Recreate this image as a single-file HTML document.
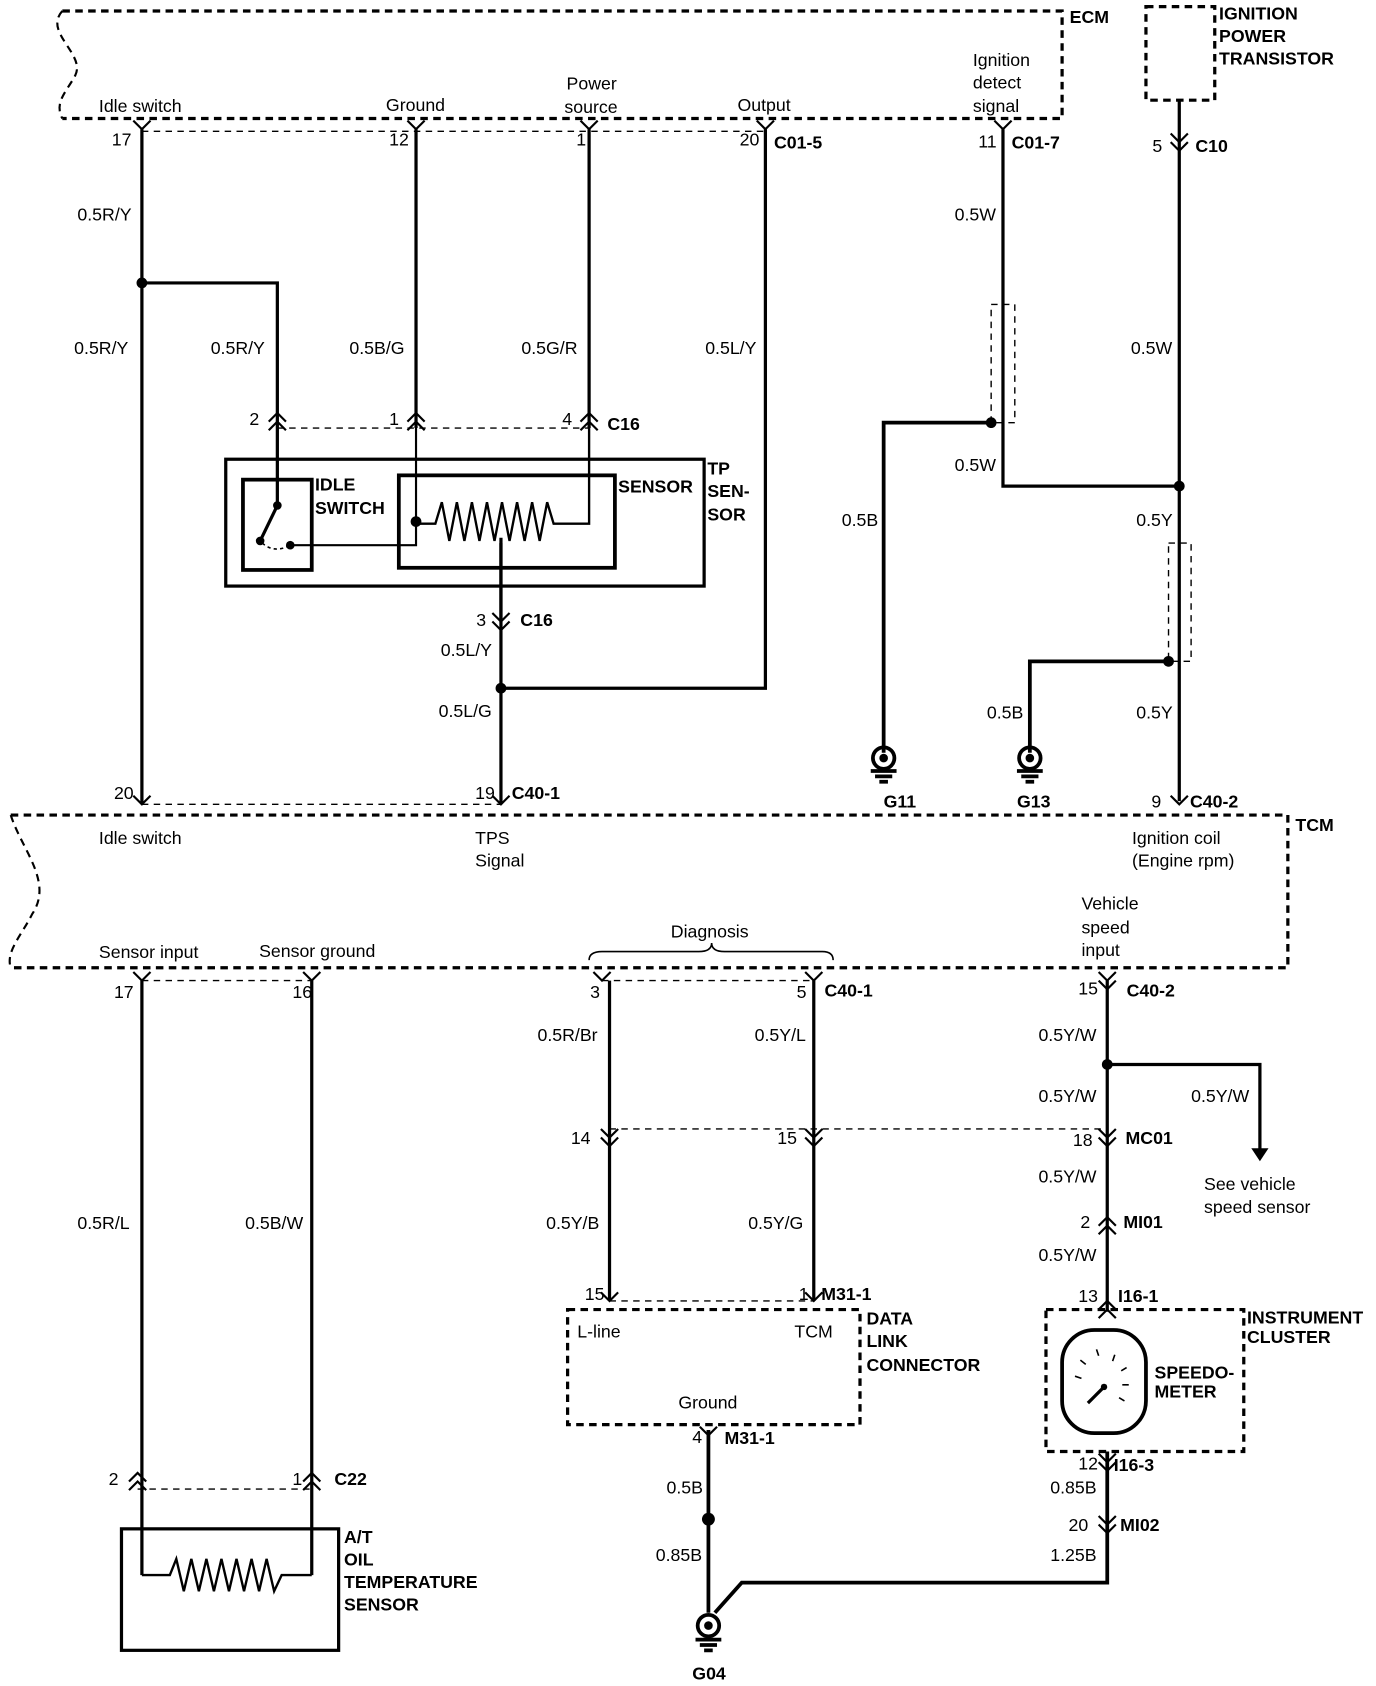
<!DOCTYPE html>
<html><head><meta charset="utf-8"><style>
html,body{margin:0;padding:0;background:#fff;}
svg{display:block}
text{font-family:"Liberation Sans",sans-serif;font-size:16.5px;fill:#000}
.b{font-weight:bold}
</style></head><body>
<svg width="1376" height="1686" viewBox="0 0 1280 1568" xmlns="http://www.w3.org/2000/svg">
<g fill="none" stroke="#000" stroke-width="3">
<path d="M58 10 H988 V110 H58" stroke-dasharray="7,5"/>
<path d="M58 10 C40 30 80 50 70 70 C62 85 50 95 58 110" stroke-dasharray="7,5" stroke-width="2"/>
<rect x="1066" y="6" width="64" height="87" stroke-dasharray="7,5"/>
<path d="M10 758 H1198 V900 H10" stroke-dasharray="7,5"/>
<path d="M10 758 C20 790 50 820 30 850 C20 870 5 885 10 900" stroke-dasharray="7,5" stroke-width="2"/>
<g stroke-width="1.3" stroke-dasharray="6,5">
<path d="M132 122 H712"/><path d="M258 398 H548"/><path d="M132 748 H466"/>
<path d="M132 912 H290"/><path d="M560 912 H757"/><path d="M567 1050 H1030"/>
<path d="M567 1210 H757"/><path d="M128 1385 H290"/>
<rect x="922" y="283" width="22" height="110"/><rect x="1087" y="505" width="21" height="110"/>
</g>
<rect x="528" y="1218" width="272" height="107" stroke-dasharray="7,5"/>
<rect x="973" y="1218" width="184" height="132" stroke-dasharray="7,5"/>
<path d="M132 120 V748"/><path d="M132 263 H258 V398"/>
<path d="M387 120 V398"/><path d="M548 120 V398"/>
<path d="M712 120 V640 H466"/><path d="M466 500 V748"/>
<path d="M933 120 V452 H1097"/><path d="M922 393 H822 V700" stroke-width="3.5"/>
<path d="M1097 93 V745"/><path d="M1087 615 H958 V700" stroke-width="3.5"/>
<rect x="210" y="427" width="445" height="118"/>
<rect x="226" y="446" width="64" height="84" stroke-width="3.5"/>
<rect x="371" y="442" width="201" height="86" stroke-width="3.5"/>
<path d="M258 398 V470 L242 503"/>
<path d="M244 505 Q255 515 270 507" stroke-dasharray="3,3" stroke-width="1.5"/>
<path d="M270 507 H387 V398" stroke-width="2"/>
<path d="M387 487 H405 L411 467 L418 503 L425 467 L432 503 L439 467 L446 503 L453 467 L460 503 L467 467 L474 503 L481 467 L488 503 L495 467 L502 503 L509 467 L515 487 H548 V398" stroke-width="2.2"/>
<path d="M466 575 V505"/>
<path d="M132 912 V1465"/><path d="M290 912 V1465"/>
<rect x="113" y="1422" width="202" height="113"/>
<path d="M132 1465 H158 L164 1450 L171 1480 L178 1450 L185 1480 L192 1450 L199 1480 L206 1450 L213 1480 L220 1450 L227 1480 L234 1450 L241 1480 L248 1450 L255 1480 L262 1465 H290" stroke-width="2.2"/>
<path d="M567 912 V1210"/><path d="M757 912 V1210"/>
<path d="M659 1330 V1500" stroke-width="3.5"/>
<path d="M1030 912 V1220"/><path d="M1030 990 H1172 V1072"/>
<path d="M1030 1350 V1472 H690 L665 1500" stroke-width="3.5"/>
<path d="M548 893 Q548 885 560 885 H650 Q662 885 662 877 Q662 885 674 885 H765 Q775 885 775 893" stroke-width="1.5"/>
<rect x="988" y="1237" width="78" height="96" rx="30" stroke-width="3.5"/>
<path d="M1027 1290 L1012 1305"/>
<path d="M1000 1280 l6 2 M1005 1265 l5 4 M1020 1255 l2 6 M1037 1260 l-2 6 M1048 1272 l-5 3 M1050 1288 l-6 0 M1046 1303 l-5 -3" stroke-width="1.5"/>
<g stroke-width="3.5">
<circle cx="822" cy="705" r="10"/><path d="M810 717 H834 M814 722 H830 M818 727 H826"/>
<circle cx="958" cy="705" r="10"/><path d="M946 717 H970 M950 722 H966 M954 727 H962"/>
<circle cx="659" cy="1512" r="10"/><path d="M647 1525 H671 M651 1530 H667 M655 1535 H663"/>
</g>
<g stroke-width="2">
<path d="M124 112 l8 8 l8 -8 M379 112 l8 8 l8 -8 M540 112 l8 8 l8 -8 M704 112 l8 8 l8 -8 M925 112 l8 8 l8 -8"/>
<path d="M1089 124 l8 8 l8 -8 M1089 132 l8 8 l8 -8"/>
<path d="M458 570 l8 8 l8 -8 M458 578 l8 8 l8 -8"/>
<path d="M124 740 l8 8 l8 -8 M458 740 l8 8 l8 -8 M1089 740 l8 8 l8 -8"/>
<path d="M124 904 l8 8 l8 -8 M282 904 l8 8 l8 -8 M552 904 l8 8 l8 -8 M749 904 l8 8 l8 -8 M1022 904 l8 8 l8 -8 M1022 912 l8 8 l8 -8"/>
<path d="M559 1050 l8 8 l8 -8 M559 1058 l8 8 l8 -8 M749 1050 l8 8 l8 -8 M749 1058 l8 8 l8 -8 M1022 1050 l8 8 l8 -8 M1022 1058 l8 8 l8 -8"/>
<path d="M559 1202 l8 8 l8 -8 M749 1202 l8 8 l8 -8 M651 1327 l8 8 l8 -8"/>
<path d="M1022 1352 l8 8 l8 -8 M1022 1360 l8 8 l8 -8 M1022 1410 l8 8 l8 -8 M1022 1418 l8 8 l8 -8"/>
<path d="M250 392 l8 -8 l8 8 M250 400 l8 -8 l8 8 M379 392 l8 -8 l8 8 M379 400 l8 -8 l8 8 M540 392 l8 -8 l8 8 M540 400 l8 -8 l8 8"/>
<path d="M1022 1140 l8 -8 l8 8 M1022 1148 l8 -8 l8 8 M1022 1218 l8 -8 l8 8 M1022 1226 l8 -8 l8 8"/>
<path d="M120 1378 l8 -8 l8 8 M120 1386 l8 -8 l8 8 M282 1378 l8 -8 l8 8 M282 1386 l8 -8 l8 8"/>
</g>
</g>
<path d="M1164 1068 H1180 L1172 1080 Z" fill="#000"/>
<g fill="#000">
<circle cx="132" cy="263" r="5"/><circle cx="466" cy="640" r="5"/><circle cx="922" cy="393" r="5"/>
<circle cx="1097" cy="452" r="5"/><circle cx="1087" cy="615" r="5"/><circle cx="1030" cy="990" r="5"/>
<circle cx="659" cy="1413" r="6"/><circle cx="258" cy="470" r="4"/><circle cx="242" cy="503" r="4"/>
<circle cx="270" cy="507" r="4"/><circle cx="387" cy="485" r="5"/>
<circle cx="822" cy="705" r="4"/><circle cx="958" cy="705" r="4"/><circle cx="659" cy="1512" r="4"/>
<circle cx="1027" cy="1290" r="3"/>
</g>
<text class="b" x="995" y="21">ECM</text>
<text class="b" x="1134" y="18">IGNITION</text><text class="b" x="1134" y="39">POWER</text><text class="b" x="1134" y="60">TRANSISTOR</text>
<text x="92" y="104">Idle switch</text><text x="359" y="103">Ground</text>
<text x="527" y="83">Power</text><text x="525" y="105">source</text><text x="686" y="103">Output</text>
<text x="905" y="61">Ignition</text><text x="905" y="82">detect</text><text x="905" y="104">signal</text>
<text x="104" y="135">17</text><text x="362" y="135">12</text><text x="536" y="135">1</text><text x="688" y="135">20</text>
<text class="b" x="720" y="138">C01-5</text><text x="910" y="137">11</text><text class="b" x="941" y="138">C01-7</text>
<text x="1072" y="141">5</text><text class="b" x="1112" y="141">C10</text>
<text x="72" y="205">0.5R/Y</text><text x="69" y="329">0.5R/Y</text><text x="196" y="329">0.5R/Y</text>
<text x="325" y="329">0.5B/G</text><text x="485" y="329">0.5G/R</text><text x="656" y="329">0.5L/Y</text>
<text x="888" y="205">0.5W</text><text x="1052" y="329">0.5W</text><text x="888" y="438">0.5W</text>
<text x="1057" y="489">0.5Y</text><text x="1057" y="668">0.5Y</text><text x="918" y="668">0.5B</text><text x="783" y="489">0.5B</text>
<text x="232" y="395">2</text><text x="362" y="395">1</text><text x="523" y="395">4</text><text class="b" x="565" y="400">C16</text>
<text class="b" x="293" y="456">IDLE</text><text class="b" x="293" y="478">SWITCH</text>
<text class="b" x="575" y="458">SENSOR</text><text class="b" x="658" y="441">TP</text><text class="b" x="658" y="462">SEN-</text><text class="b" x="658" y="484">SOR</text>
<text x="443" y="582">3</text><text class="b" x="484" y="582">C16</text>
<text x="410" y="610">0.5L/Y</text><text x="408" y="667">0.5L/G</text>
<text x="106" y="743">20</text><text x="442" y="743">19</text><text class="b" x="476" y="743">C40-1</text>
<text x="1071" y="751">9</text><text class="b" x="1107" y="751">C40-2</text>
<text class="b" x="822" y="751">G11</text><text class="b" x="946" y="751">G13</text>
<text x="92" y="785">Idle switch</text><text x="442" y="785">TPS</text><text x="442" y="806">Signal</text>
<text x="1053" y="785">Ignition coil</text><text x="1053" y="806">(Engine rpm)</text><text class="b" x="1205" y="773">TCM</text>
<text x="1006" y="846">Vehicle</text><text x="1006" y="868">speed</text><text x="1006" y="889">input</text>
<text x="624" y="872">Diagnosis</text>
<text x="92" y="891">Sensor input</text><text x="241" y="890">Sensor ground</text>
<text x="106" y="928">17</text><text x="272" y="928">16</text><text x="549" y="928">3</text><text x="741" y="928">5</text>
<text class="b" x="767" y="927">C40-1</text><text x="1003" y="925">15</text><text class="b" x="1048" y="927">C40-2</text>
<text x="500" y="968">0.5R/Br</text><text x="702" y="968">0.5Y/L</text><text x="966" y="968">0.5Y/W</text>
<text x="966" y="1025">0.5Y/W</text><text x="1108" y="1025">0.5Y/W</text>
<text x="531" y="1064">14</text><text x="723" y="1064">15</text><text x="998" y="1066">18</text><text class="b" x="1047" y="1064">MC01</text>
<text x="966" y="1100">0.5Y/W</text><text x="1120" y="1107">See vehicle</text><text x="1120" y="1128">speed sensor</text>
<text x="1005" y="1142">2</text><text class="b" x="1045" y="1142">MI01</text><text x="966" y="1173">0.5Y/W</text>
<text x="72" y="1143">0.5R/L</text><text x="228" y="1143">0.5B/W</text><text x="508" y="1143">0.5Y/B</text><text x="696" y="1143">0.5Y/G</text>
<text x="544" y="1209">15</text><text x="743" y="1209">1</text><text class="b" x="764" y="1209">M31-1</text>
<text x="1003" y="1211">13</text><text class="b" x="1040" y="1211">I16-1</text>
<text x="537" y="1244">L-line</text><text x="739" y="1244">TCM</text><text x="631" y="1310">Ground</text>
<text class="b" x="806" y="1232">DATA</text><text class="b" x="806" y="1253">LINK</text><text class="b" x="806" y="1275">CONNECTOR</text>
<text class="b" x="1160" y="1231">INSTRUMENT</text><text class="b" x="1160" y="1249">CLUSTER</text>
<text class="b" x="1074" y="1282">SPEEDO-</text><text class="b" x="1074" y="1300">METER</text>
<text x="644" y="1342">4</text><text class="b" x="674" y="1343">M31-1</text>
<text x="1003" y="1367">12</text><text class="b" x="1036" y="1368">I16-3</text><text x="977" y="1389">0.85B</text>
<text x="994" y="1424">20</text><text class="b" x="1042" y="1424">MI02</text><text x="977" y="1452">1.25B</text>
<text x="620" y="1389">0.5B</text><text x="610" y="1452">0.85B</text><text class="b" x="644" y="1562">G04</text>
<text x="101" y="1381">2</text><text x="272" y="1381">1</text><text class="b" x="311" y="1381">C22</text>
<text class="b" x="320" y="1435">A/T</text><text class="b" x="320" y="1456">OIL</text><text class="b" x="320" y="1477">TEMPERATURE</text><text class="b" x="320" y="1498">SENSOR</text>
</svg>
</body></html>
